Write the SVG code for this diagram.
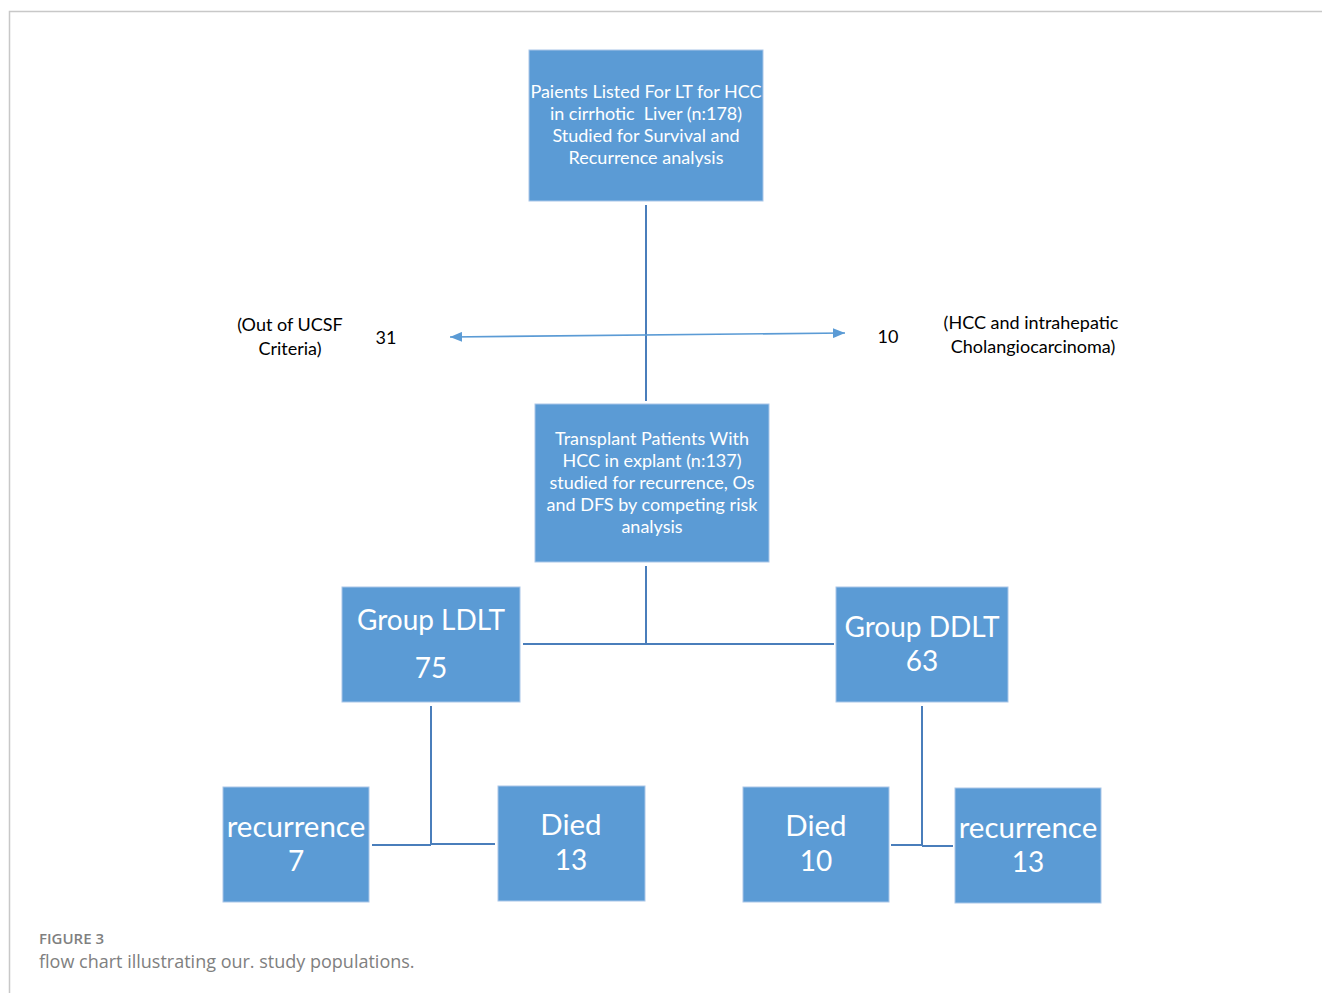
<svg xmlns="http://www.w3.org/2000/svg" width="1322" height="993" viewBox="0 0 1322 993">
<style>
.box{fill:#5B9BD5;stroke:#A9C6E8;stroke-width:1}
.t{font-family:Lato,"Liberation Sans",sans-serif;fill:#fff;text-anchor:middle}
.s{font-size:18px}
.b{font-size:28px}
.r{font-size:29.5px}
.k{font-family:Lato,"Liberation Sans",sans-serif;fill:#000;font-size:18px;text-anchor:middle}
.ln{stroke:#4A7EBB;stroke-width:2;fill:none}
.ar{stroke:#5B9BD5;stroke-width:1.6;fill:none}
</style>
<defs>
<marker id="ah" viewBox="0 0 12 10" refX="12" refY="5" markerWidth="12" markerHeight="10" markerUnits="userSpaceOnUse" orient="auto-start-reverse">
<path d="M0,0 L12,5 L0,10 Z" fill="#5B9BD5"/>
</marker>
</defs>
<rect width="1322" height="993" fill="#fff"/>
<path d="M9.5,993 V11.5 H1322" stroke="#C8C8C8" stroke-width="1.5" fill="none"/>
<g id="connectors">
<path class="ln" d="M646,205 V401"/>
<path class="ar" d="M450,337 L845,333" marker-start="url(#ah)" marker-end="url(#ah)"/>
<path class="ln" d="M646,566 V644 M523,644 H834"/>
<path class="ln" d="M431,706 V845 M372,845 H431 M431,844 H495"/>
<path class="ln" d="M922,706 V845 M891,845 H922 M922,846 H953"/>
</g>
<g id="n1"><rect class="box" x="529" y="50" width="234" height="151"/>
<text class="t s" x="646" y="98">Paients Listed For LT for HCC</text>
<text class="t s" x="646" y="120" xml:space="preserve" style="white-space:pre">in cirrhotic  Liver (n:178)</text>
<text class="t s" x="646" y="142">Studied for Survival and</text>
<text class="t s" x="646" y="164">Recurrence analysis</text></g>
<g id="n2"><rect class="box" x="535" y="404" width="234" height="158"/>
<text class="t s" x="652" y="445">Transplant Patients With</text>
<text class="t s" x="652" y="467">HCC in explant (n:137)</text>
<text class="t s" x="652" y="489">studied for recurrence, Os</text>
<text class="t s" x="652" y="511">and DFS by competing risk</text>
<text class="t s" x="652" y="533">analysis</text></g>
<g id="ldlt"><rect class="box" x="342" y="587" width="178" height="115"/>
<text class="t b" x="431" y="630">Group LDLT</text>
<text class="t b" x="431" y="678">75</text></g>
<g id="ddlt"><rect class="box" x="836" y="587" width="172" height="115"/>
<text class="t b" x="922" y="637">Group DDLT</text>
<text class="t b" x="922" y="671">63</text></g>
<g id="rec7"><rect class="box" x="223" y="787" width="146" height="115"/>
<text class="t r" x="296" y="837">recurrence</text>
<text class="t b" x="296" y="871">7</text></g>
<g id="died13"><rect class="box" x="498" y="786" width="147" height="115"/>
<text class="t r" x="571" y="835">Died</text>
<text class="t b" x="571" y="870">13</text></g>
<g id="died10"><rect class="box" x="743" y="787" width="146" height="115"/>
<text class="t r" x="816" y="836">Died</text>
<text class="t b" x="816" y="871">10</text></g>
<g id="rec13"><rect class="box" x="955" y="788" width="146" height="115"/>
<text class="t r" x="1028" y="838">recurrence</text>
<text class="t b" x="1028" y="872">13</text></g>
<g id="lbl-left">
<text class="k" x="290" y="331">(Out of UCSF</text>
<text class="k" x="290" y="355">Criteria)</text>
<text class="k" x="386" y="344">31</text></g>
<g id="lbl-right">
<text class="k" x="888" y="343">10</text>
<text class="k" x="1031" y="329">(HCC and intrahepatic</text>
<text class="k" x="1033" y="353">Cholangiocarcinoma)</text></g>
<g id="caption">
<text x="39" y="944" font-family="'Open Sans','Liberation Sans',sans-serif" font-size="15" font-weight="600" fill="#808080">FIGURE 3</text>
<text x="39" y="968" font-family="'Open Sans','Liberation Sans',sans-serif" font-size="18" fill="#808080">flow chart illustrating our. study populations.</text>
</g>
</svg>
